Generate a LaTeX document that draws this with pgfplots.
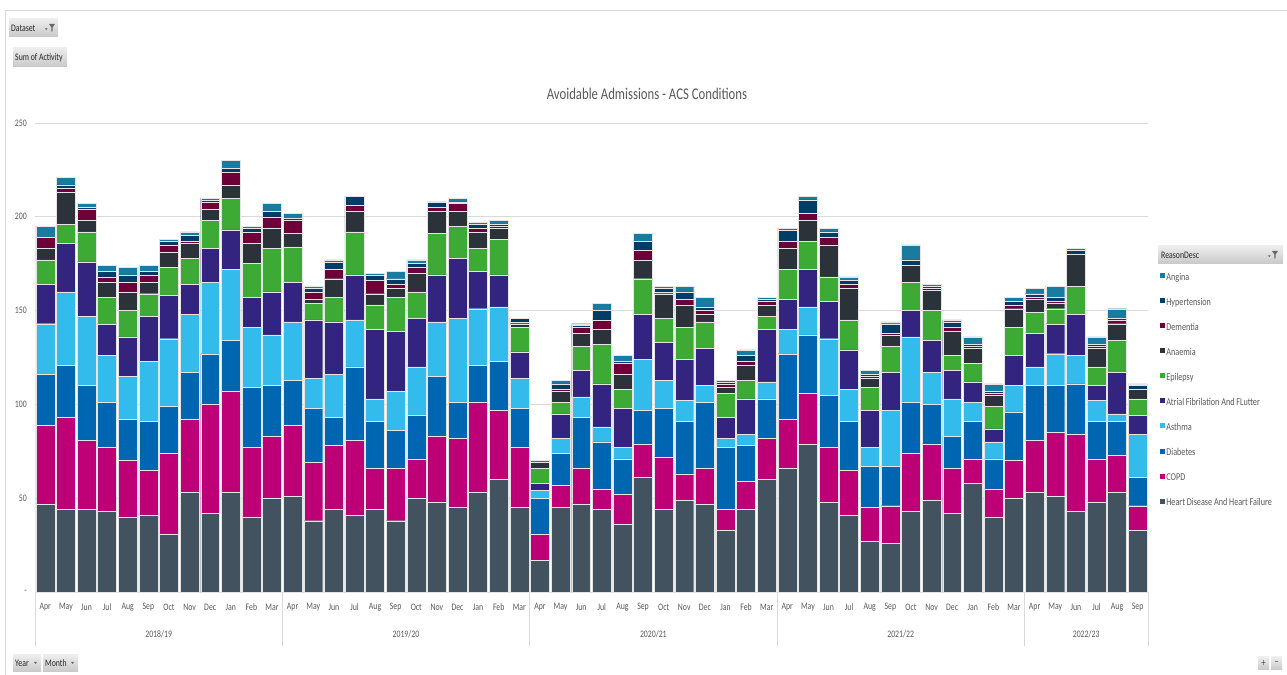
\documentclass[border=0pt]{standalone}
\usepackage{pgfplots}
\pgfplotsset{compat=1.18}
\usepackage{pgfplotstable}
\usepackage{fontspec}
\setmainfont{Carlito}[FakeStretch=0.78]
\definecolor{cAng}{HTML}{1A7BA0}
\definecolor{cHyp}{HTML}{003D66}
\definecolor{cDem}{HTML}{6E0039}
\definecolor{cAnae}{HTML}{2B323A}
\definecolor{cEpi}{HTML}{3DAA35}
\definecolor{cAF}{HTML}{332480}
\definecolor{cAsth}{HTML}{33BBEB}
\definecolor{cDiab}{HTML}{0066B2}
\definecolor{cCOPD}{HTML}{BE0076}
\definecolor{cHD}{HTML}{42535F}
\definecolor{txt}{HTML}{595959}
\definecolor{gridc}{HTML}{D9D9D9}
\definecolor{btnA}{HTML}{EDEDED}
\definecolor{btnB}{HTML}{C8C8C8}

\pgfplotstableread{
x HD COPD Diab Asth AF Epi Anae Dem Hyp Ang
0 47 42 27 27 21 13 6 6 0 6
1 44 49 28 39 26 10 17 2 2 4
2 44 37 29 37 29 16 6 6 1 2
3 43 34 24 25 17 14 8 3 3 3
4 40 30 22 23 21 14 10 5 4 4
5 41 24 26 32 24 12 6 4 2 3
6 31 43 25 36 23 15 8 4 2 1
7 53 39 25 31 16 14 8 1 3 2
8 42 58 27 38 18 15 6 4 1 1
9 53 54 27 38 21 17 7 7 2 4
10 40 37 32 32 16 18 11 6 2 1
11 50 33 27 27 23 23 11 6 3 4
12 51 38 24 31 21 19 7 7 1 3
13 38 31 29 16 31 9 2 4 2 1
14 44 34 15 23 28 13 10 5 4 1
15 41 40 39 25 24 23 11 3 5 0
16 44 22 25 12 37 13 6 7 3 1
17 38 28 20 21 32 18 5 2 3 4
18 50 21 23 26 26 14 10 3 2 2
19 48 35 32 29 25 22 12 2 3 0
20 45 37 19 45 32 17 8 4 1 2
21 53 48 20 30 20 12 9 2 2 1
22 60 37 26 29 17 19 6 1 1 2
23 45 32 21 16 14 13 2 1 2 0
24 17 14 19 4 4 8 3 0 0 1
25 45 12 17 8 13 6 6 1 3 2
26 47 19 27 11 14 13 7 3 1 1
27 44 11 25 8 23 21 8 5 5 4
28 36 16 19 6 21 10 8 6 1 3
29 61 18 18 27 24 19 10 5 5 4
30 44 28 26 15 20 13 13 1 2 1
31 49 14 28 11 22 17 12 3 4 3
32 47 19 35 9 20 14 4 2 2 5
33 33 11 33 5 11 13 3 2 1 1
34 44 15 19 6 19 10 8 2 3 3
35 60 22 21 9 28 7 6 2 1 1
36 66 26 35 13 16 16 11 4 6 1
37 79 27 31 15 20 15 11 4 7 2
38 48 29 28 30 20 13 17 4 3 2
39 41 24 26 17 21 16 17 2 2 2
40 27 18 22 10 20 12 5 1 1 2
41 26 20 21 30 20 14 6 1 5 1
42 43 31 27 35 14 15 9 0 3 8
43 49 30 21 17 17 16 11 1 1 1
44 42 24 17 20 15 8 13 2 3 1
45 58 13 20 10 11 10 8 1 1 4
46 40 15 16 9 7 12 6 1 1 4
47 50 20 26 14 16 15 10 2 2 2
48 53 28 29 10 18 11 7 1 2 3
49 51 34 25 17 16 8 3 1 2 6
50 43 41 27 15 22 15 17 0 2 1
51 48 23 20 11 8 10 10 1 1 4
52 53 20 18 4 22 17 9 2 1 5
53 33 13 15 23 10 9 5 0 2 1
}\datatable

\pgfplotsset{acsbar/.style={fill=#1, draw=white!80!gray, line width=0.4bp}}

\newcommand{\funnel}[2]{%
  \fill[black!60] (#1,#2) -- ++(6bp,0) -- ++(-2.3bp,-3.2bp) -- ++(0,-3.6bp) -- ++(-1.4bp,-1bp) -- ++(0,4.6bp) -- cycle;
  \fill[black!60] ([xshift=-4bp,yshift=-4.5bp]#1,#2) -- ++(2.6bp,0) -- ++(-1.3bp,-1.5bp) -- cycle;}
\newcommand{\sm}{\fontsize{10}{11}\selectfont}

\begin{document}
\begin{tikzpicture}
\useasboundingbox (0,0) rectangle (1287bp,675bp);
\fill[white] (0,0) rectangle (1287bp,675bp);
% frame lines
\draw[gridc, line width=0.8bp] (5bp,665bp) -- (1287bp,665bp);
\draw[gridc, line width=0.8bp] (5bp,665bp) -- (5bp,0bp);
% top-left buttons
\shade[top color=btnA, bottom color=btnB] (9bp,638bp) rectangle (58bp,656bp);
\node[anchor=west, inner sep=0pt, font=\sm, text=black!85] at (11bp,647bp) {Dataset};
\funnel{49bp}{651bp}
\shade[top color=btnA, bottom color=btnB] (13bp,608bp) rectangle (67bp,627bp);
\node[anchor=west, inner sep=0pt, font=\sm, text=black!85] at (15bp,617.5bp) {Sum of Activity};
% bottom buttons
\shade[top color=btnA, bottom color=btnB] (13bp,3bp) rectangle (41bp,20bp);
\node[anchor=west, inner sep=0pt, font=\sm, text=black!85] at (15bp,11.5bp) {Year};
\fill[black!60] (34bp,13bp) -- ++(3bp,0) -- ++(-1.5bp,-2bp) -- cycle;
\shade[top color=btnA, bottom color=btnB] (43bp,3bp) rectangle (78bp,20bp);
\node[anchor=west, inner sep=0pt, font=\sm, text=black!85] at (45bp,11.5bp) {Month};
\fill[black!60] (71bp,13bp) -- ++(3bp,0) -- ++(-1.5bp,-2bp) -- cycle;
\shade[top color=btnA, bottom color=btnB] (1258bp,5bp) rectangle (1269bp,18bp);
\shade[top color=btnA, bottom color=btnB] (1271bp,5bp) rectangle (1282bp,18bp);
\node[inner sep=0pt, font=\fontsize{11}{11}\selectfont, text=black!70] at (1263.5bp,11.5bp) {+};
\node[inner sep=0pt, font=\fontsize{11}{11}\selectfont, text=black!70] at (1276.5bp,11.5bp) {\textminus};
% legend header
\shade[top color=btnA, bottom color=btnB] (1158bp,411bp) rectangle (1283bp,429bp);
\node[anchor=west, inner sep=0pt, font=\sm, text=black!85] at (1161bp,420bp) {ReasonDesc};
\funnel{1272bp}{424bp}
% title
\node[font=\fontsize{16.4}{18}\selectfont, text=txt] at (647bp,581bp) {Avoidable Admissions - ACS Conditions};

\begin{axis}[
  at={(35bp,83bp)}, anchor=south west,
  scale only axis, width=1113bp, height=469bp,
  xmin=-0.5, xmax=53.5, ymin=0, ymax=250,
  ybar stacked, bar width=0.92,
  axis line style={draw=none},
  major tick length=0pt,
  ytick={0,50,100,150,200,250},
  yticklabels={-\hspace{4bp},50,100,150,200,250},
  xtick={0,...,53},
  xticklabels={Apr,May,Jun,Jul,Aug,Sep,Oct,Nov,Dec,Jan,Feb,Mar,
               Apr,May,Jun,Jul,Aug,Sep,Oct,Nov,Dec,Jan,Feb,Mar,
               Apr,May,Jun,Jul,Aug,Sep,Oct,Nov,Dec,Jan,Feb,Mar,
               Apr,May,Jun,Jul,Aug,Sep,Oct,Nov,Dec,Jan,Feb,Mar,
               Apr,May,Jun,Jul,Aug,Sep},
  tick label style={font=\sm, text=txt},
  xticklabel style={inner sep=0pt, anchor=center, yshift=-15bp},
  yticklabel style={inner sep=0pt, anchor=east, xshift=-8bp},
  ymajorgrids, grid style={draw=gridc, line width=0.8bp},
  reverse legend,
  legend cell align=left,
  legend style={at={(1.0108,0.6802)}, anchor=north west, draw=none, fill=none,
    font=\fontsize{10.5}{11}\selectfont, text=txt, inner sep=0pt, row sep=15.1bp,
    nodes={inner sep=1.2bp, text height=6bp, text depth=1.5bp}},
  legend image code/.code={\fill[#1,draw=none] (0bp,0bp) rectangle (5bp,5bp);},
  clip=false,
]
\addplot[acsbar=cHD]   table[x=x,y=HD]   {\datatable}; \addlegendentry{Heart Disease And Heart Failure}
\addplot[acsbar=cCOPD] table[x=x,y=COPD] {\datatable}; \addlegendentry{COPD}
\addplot[acsbar=cDiab] table[x=x,y=Diab] {\datatable}; \addlegendentry{Diabetes}
\addplot[acsbar=cAsth] table[x=x,y=Asth] {\datatable}; \addlegendentry{Asthma}
\addplot[acsbar=cAF]   table[x=x,y=AF]   {\datatable}; \addlegendentry{Atrial Fibrilation And FLutter}
\addplot[acsbar=cEpi]  table[x=x,y=Epi]  {\datatable}; \addlegendentry{Epilepsy}
\addplot[acsbar=cAnae] table[x=x,y=Anae] {\datatable}; \addlegendentry{Anaemia}
\addplot[acsbar=cDem]  table[x=x,y=Dem]  {\datatable}; \addlegendentry{Dementia}
\addplot[acsbar=cHyp]  table[x=x,y=Hyp]  {\datatable}; \addlegendentry{Hypertension}
\addplot[acsbar=cAng]  table[x=x,y=Ang]  {\datatable}; \addlegendentry{Angina}
% category axis line, separators and year labels
\draw[gridc, line width=0.8bp] (axis cs:-0.5,0) -- (axis cs:53.5,0);
\draw[gridc, line width=0.8bp] (axis cs:-0.5,0) -- ++(0bp,-54bp);
\draw[gridc, line width=0.8bp] (axis cs:11.5,0) -- ++(0bp,-54bp);
\draw[gridc, line width=0.8bp] (axis cs:23.5,0) -- ++(0bp,-54bp);
\draw[gridc, line width=0.8bp] (axis cs:35.5,0) -- ++(0bp,-54bp);
\draw[gridc, line width=0.8bp] (axis cs:47.5,0) -- ++(0bp,-54bp);
\draw[gridc, line width=0.8bp] (axis cs:53.5,0) -- ++(0bp,-54bp);
\node[font=\sm, text=txt] at ([yshift=-42bp]axis cs:5.5,0) {2018/19};
\node[font=\sm, text=txt] at ([yshift=-42bp]axis cs:17.5,0) {2019/20};
\node[font=\sm, text=txt] at ([yshift=-42bp]axis cs:29.5,0) {2020/21};
\node[font=\sm, text=txt] at ([yshift=-42bp]axis cs:41.5,0) {2021/22};
\node[font=\sm, text=txt] at ([yshift=-42bp]axis cs:50.5,0) {2022/23};
\end{axis}
\end{tikzpicture}
\end{document}
